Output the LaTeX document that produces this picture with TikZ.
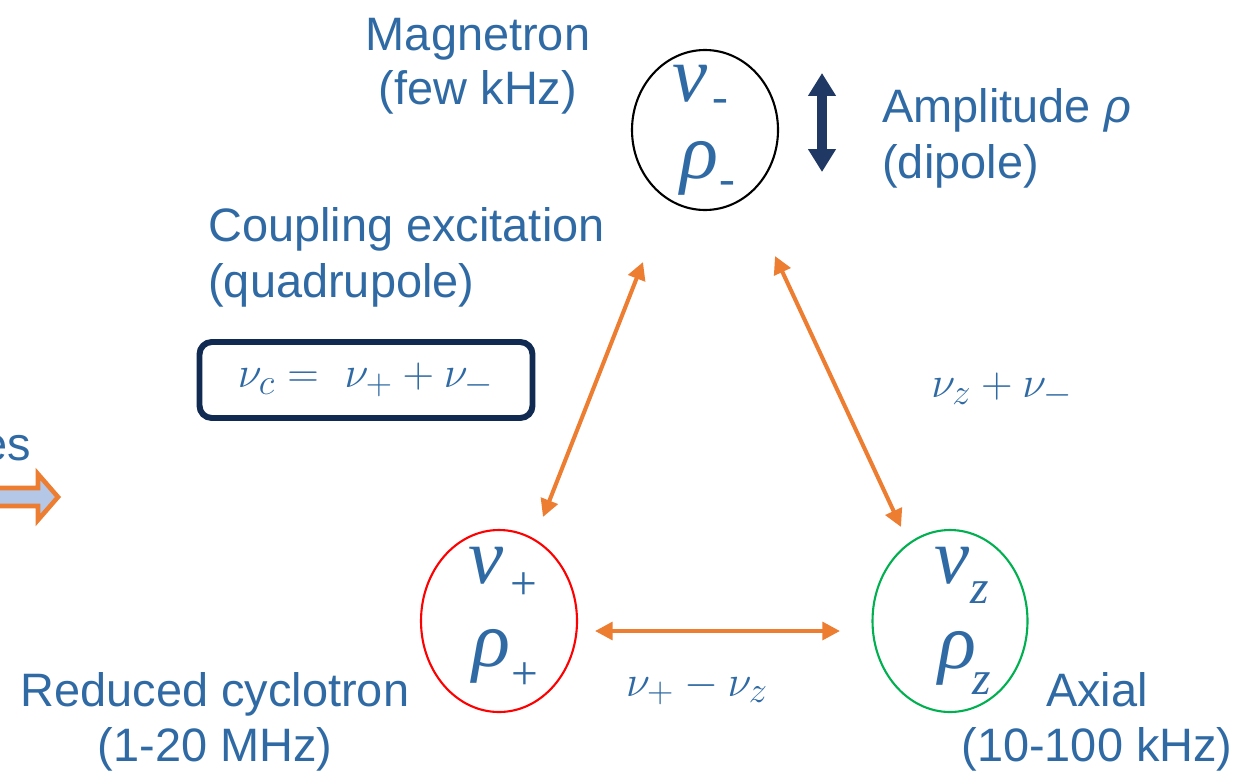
\documentclass[tikz,border=0pt]{standalone}
\usepackage{fontspec}
\setmainfont{Liberation Sans}
\newfontfamily\tms{Liberation Serif}
\usetikzlibrary{arrows.meta,shapes.geometric}
\definecolor{txtblue}{RGB}{47,106,164}
\definecolor{navy}{RGB}{16,42,82}
\definecolor{navyarrow}{RGB}{31,56,100}
\definecolor{orng}{RGB}{237,125,49}
\definecolor{lightblue}{RGB}{180,199,231}
\definecolor{grn}{RGB}{0,176,80}
\tikzset{
  lbl/.style={text=txtblue, font=\fontsize{26.7}{30}\selectfont, inner sep=0pt},
  mth/.style={text=txtblue, font=\fontsize{28}{32}\selectfont, inner sep=0pt},
  sym/.style={text=txtblue, font=\tms\fontsize{45}{45}\selectfont\itshape, inner sep=0pt},
  subs/.style={text=txtblue, font=\tms\fontsize{27}{27}\selectfont, inner sep=0pt},
  link/.style={draw=orng, line width=2.3pt, {Triangle[width=10pt,length=10pt]}-{Triangle[width=10pt,length=10pt]}}
}
\begin{document}
\begin{tikzpicture}[x=0.02cm,y=-0.02cm]
\useasboundingbox (0,0) rectangle (1239,771);
\clip (0,0) rectangle (1239,771);
\fill[white] (0,0) rectangle (1239,771);

% ellipses
\node[ellipse, draw=black, line width=1.2pt, minimum width=146*0.02cm, minimum height=160*0.02cm] (em) at (705,130) {};
\node[ellipse, draw=red, line width=1.2pt, minimum width=156*0.02cm, minimum height=182*0.02cm] (ep) at (499,621) {};
\node[ellipse, draw=grn, line width=1.2pt, minimum width=155*0.02cm, minimum height=182*0.02cm] (ez) at (950,621) {};

% symbols in ellipses
\node[sym] (vm) at (690,84) {v};
\node[subs] (vms) at (720,106) {-};
\node[sym] (rm) at (699,168) {\char"03C1};
\node[subs] (rms) at (727,188) {-};

\node[sym] (vp) at (486,566) {v};
\node[subs] (vps) at (524,586) {+};
\node[sym] (rp) at (491,656) {\char"03C1};
\node[subs] (rps) at (525,676) {+};

\node[sym] (vz) at (952,566) {v};
\node[subs] (vzs) at (980,593) {\itshape z};
\node[sym] (rz) at (957,658) {\char"03C1};
\node[subs] (rzs) at (982,684) {\itshape z};

% coordinates for arrows
\coordinate (a1) at (643,262);
\coordinate (a2) at (543,517);
\coordinate (b1) at (775,256);
\coordinate (b2) at (901,527);
\coordinate (c1) at (595,631);
\coordinate (c2) at (840,631);
\draw[link] (a1) -- (a2);
\draw[link] (b1) -- (b2);
\draw[link] (c1) -- (c2);

% amplitude arrow
\coordinate (d1) at (822,73);
\coordinate (d2) at (822,172);
\draw[navyarrow, line width=5.5pt, {Triangle[width=15pt,length=13pt]}-{Triangle[width=15pt,length=13pt]}] (d1) -- (d2);

% labels
\node[lbl, anchor=base] (mag) at (478,50) {Magnetron};
\node[lbl, anchor=base] (magf) at (478,104) {(few kHz)};
\node[lbl, anchor=base west] (amp) at (882,122) {Amplitude \textit{\char"03C1}};
\node[lbl, anchor=base west] (dip) at (882,178) {(dipole)};
\node[lbl, anchor=base west] (cpl) at (208,241) {Coupling excitation};
\node[lbl, anchor=base west] (quad) at (208,297) {(quadrupole)};
\node[lbl, anchor=base] (red) at (215,706) {Reduced cyclotron};
\node[lbl, anchor=base] (redf) at (215,761) {(1-20 MHz)};
\node[lbl, anchor=base] (ax) at (1097,706) {Axial};
\node[lbl, anchor=base] (axf) at (1097,761) {(10-100 kHz)};
\node[lbl, anchor=base east] (es) at (31,460) {es};

% box
\node[draw=navy, line width=3.4pt, rounded corners=7pt, minimum width=333*0.02cm, minimum height=76*0.02cm, mth] (box) at (366,380) {$\nu_c =\ \nu_+ + \nu_-$};

% frequency labels
\node[mth] (fz) at (1002,390) {$\nu_z + \nu_-$};
\node[mth] (fpz) at (697,688) {$\nu_+ - \nu_z$};

% block arrow
\draw[draw=orng, fill=lightblue, line width=2.6pt, line join=miter]
  (-10,488) -- (38,488) -- (38,474) -- (58,497) -- (38,520) -- (38,506) -- (-10,506) -- cycle;
\end{tikzpicture}
\end{document}
